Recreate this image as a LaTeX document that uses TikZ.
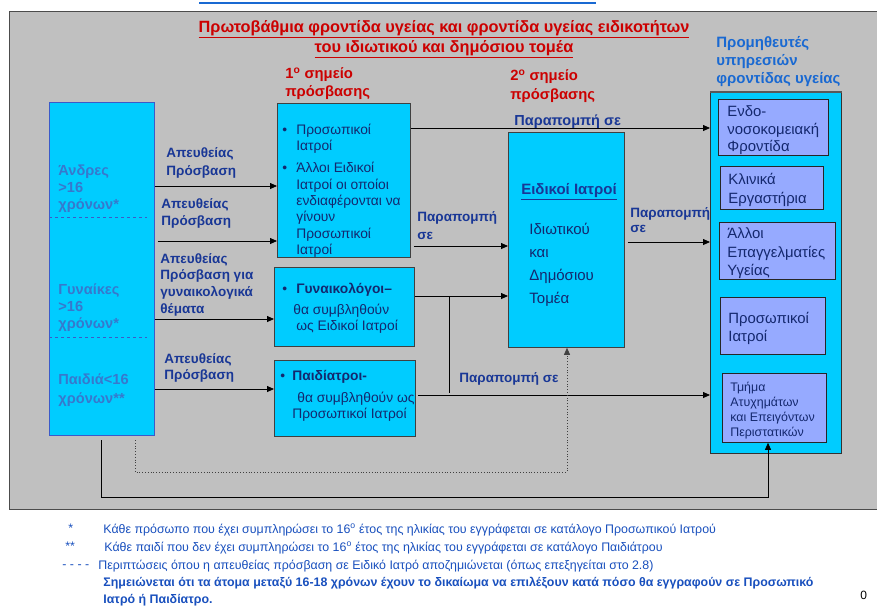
\documentclass[tikz,border=0pt]{standalone}
\usepackage{fontspec}
\setmainfont{Liberation Sans}
\usetikzlibrary{arrows.meta}
\definecolor{panelgrey}{RGB}{192,192,192}
\definecolor{boxcyan}{RGB}{0,204,255}
\definecolor{innerblue}{RGB}{150,170,255}
\definecolor{titlered}{RGB}{204,0,0}
\definecolor{labelblue}{RGB}{25,55,150}
\definecolor{groupblue}{RGB}{55,120,205}
\definecolor{groupborder}{RGB}{60,90,200}
\definecolor{provblue}{RGB}{25,105,210}
\definecolor{textnavy}{RGB}{20,40,110}
\definecolor{notesblue}{RGB}{25,80,190}
\newcommand{\bpt}[1]{\makebox[#1][l]{\textbullet}}
\newcommand{\bgap}[1]{\makebox[#1]{}}

\begin{document}
\begin{tikzpicture}[x=1pt, y=-1pt, line width=0.8pt,
    >={Triangle[length=7pt,width=6pt]},
    every node/.style={inner sep=0pt},
    cyanbox/.style={draw=black!75, fill=boxcyan, anchor=north west},
    innerbox/.style={draw=black!85, fill=innerblue, anchor=north west},
    txt/.style={anchor=north west, align=left, text=textnavy, font=\fontsize{13.8}{16.3}\selectfont},
    lbl/.style={anchor=north west, align=left, text=labelblue, font=\bfseries\fontsize{13.5}{17}\selectfont},
    grp/.style={anchor=north west, align=left, text=groupblue, font=\bfseries\fontsize{14.6}{17}\selectfont},
    redlbl/.style={anchor=north west, align=left, text=titlered, font=\bfseries\fontsize{14.8}{18}\selectfont},
    note/.style={anchor=north west, text=notesblue, font=\fontsize{12.4}{14}\selectfont}]
\useasboundingbox (0,0) rectangle (877,606);
% background panel
\fill[white] (0,0) rectangle (877,606);
\draw[provblue, line width=1.5pt] (199,3) -- (596,3);
\node[draw=black!70, fill=panelgrey, anchor=north west, minimum width=880pt, minimum height=498pt, line width=1.2pt] (panel) at (9,11) {};

% titles
\node[align=center, text=titlered, font=\bfseries\fontsize{16.3}{20}\selectfont] (title) at (444,39)
  {\underline{Πρωτοβάθμια φροντίδα υγείας και φροντίδα υγείας ειδικοτήτων}\\\underline{του ιδιωτικού και δημόσιου τομέα}};
\node[redlbl] (first) at (285,67.4) {1\textsuperscript{ο} σημείο\\πρόσβασης};
\node[redlbl, font=\bfseries\fontsize{14.8}{19}\selectfont] (second) at (510,69.4) {2\textsuperscript{ο} σημείο\\πρόσβασης};
\node[redlbl, font=\bfseries\fontsize{15}{18}\selectfont, text=provblue] (provtitle) at (716,36.3) {Προμηθευτές\\υπηρεσιών\\φροντίδας υγείας};

% population groups
\node[cyanbox, draw=groupborder, minimum width=105pt, minimum height=333pt] (groups) at (49,102) {};
\draw[dashed, groupborder] (groups.west |- 0,217) -- (147,217);
\draw[dashed, groupborder] (groups.west |- 0,337) -- (147,337);
\node[grp] (men) at (58,164.5) {Άνδρες\\>16\\χρόνων*};
\node[grp] (women) at (58,283.5) {Γυναίκες\\>16\\χρόνων*};
\node[grp, font=\bfseries\fontsize{14.6}{19}\selectfont] (children) at (58,373.5) {Παιδιά<16\\χρόνων**};

% first point of access
\node[cyanbox, minimum width=133pt, minimum height=154pt] (P1) at (277,103) {};
\node[txt] (P1txt) at (282,123.8) {\bpt{14pt}Προσωπικοί\\\bgap{14pt}Ιατροί\\[5.7pt]%
  \bpt{14pt}Άλλοι Ειδικοί\\\bgap{14pt}Ιατροί οι οποίοι\\\bgap{14pt}ενδιαφέρονται να\\%
  \bgap{14pt}γίνουν\\\bgap{14pt}Προσωπικοί\\\bgap{14pt}Ιατροί};
\node[cyanbox, minimum width=140pt, minimum height=79pt] (gyn) at (274,267) {};
\node[txt] (gyntxt) at (282,282.8) {\bpt{14pt}\textbf{Γυναικολόγοι–}\\[4.5pt]%
  \bgap{11pt}θα συμβληθούν\\\bgap{14pt}ως Ειδικοί Ιατροί};
\node[cyanbox, minimum width=141pt, minimum height=76pt] (ped) at (274,360) {};
\node[txt] (pedtxt) at (280,369.8) {\bpt{12pt}\textbf{Παιδίατροι-}\\[5.7pt]%
  \bgap{17pt}θα συμβληθούν ως\\\bgap{12pt}Προσωπικοί Ιατροί};

% second point of access
\node[cyanbox, minimum width=116pt, minimum height=215pt] (spec) at (508,132) {};
\node[anchor=north, text=labelblue, font=\bfseries\fontsize{15}{17}\selectfont] (spectitle) at (569,183.3) {\underline{Ειδικοί Ιατροί}};
\node[txt, font=\fontsize{15}{23.3}\selectfont] (spectxt) at (529,222.3) {Ιδιωτικού\\και\\Δημόσιου\\Τομέα};

% access labels
\node[lbl, font=\bfseries\fontsize{13.5}{18}\selectfont] (lab1) at (166,146.9) {Απευθείας\\Πρόσβαση};
\node[lbl] (lab2) at (161,197.9) {Απευθείας\\Πρόσβαση};
\node[lbl, font=\bfseries\fontsize{13.5}{16.7}\selectfont] (lab3) at (160,252.9) {Απευθείας\\Πρόσβαση για\\γυναικολογικά\\θέματα};
\node[lbl, font=\bfseries\fontsize{13.5}{16}\selectfont] (lab4) at (164,352.9) {Απευθείας\\Πρόσβαση};
\node[lbl, font=\bfseries\fontsize{14.5}{17}\selectfont] (ref1) at (514,114.5) {Παραπομπή σε};
\node[lbl, font=\bfseries\fontsize{13.5}{18}\selectfont] (ref2) at (417,210.9) {Παραπομπή\\σε};
\node[lbl, font=\bfseries\fontsize{13.5}{15.5}\selectfont] (ref3) at (630,206.9) {Παραπομπή\\σε};
\node[lbl] (ref4) at (459,371.9) {Παραπομπή σε};

% providers
\node[cyanbox, draw=black!80, minimum width=131pt, minimum height=361pt] (prov) at (710,92) {};
\draw[black!65, line width=2pt] (prov.north west) -- (prov.north east);
\node[innerbox, minimum width=110pt, minimum height=56pt] (hosp) at (718,99) {};
\node[txt, font=\fontsize{14.9}{17.5}\selectfont] (hosptxt) at (727,105.3) {Ενδο-\\νοσοκομειακή\\Φροντίδα};
\node[innerbox, minimum width=103pt, minimum height=43pt] (labs) at (720,166) {};
\node[txt, font=\fontsize{14.9}{18.5}\selectfont] (labstxt) at (728,173.3) {Κλινικά\\Εργαστήρια};
\node[innerbox, minimum width=116pt, minimum height=57pt] (other) at (719,222) {};
\node[txt, font=\fontsize{14.9}{18.5}\selectfont] (othertxt) at (727,227.3) {Άλλοι\\Επαγγελματίες\\Υγείας};
\node[innerbox, minimum width=105pt, minimum height=57pt] (gp) at (720,297) {};
\node[txt, font=\fontsize{14.9}{18}\selectfont] (gptxt) at (728,312.3) {Προσωπικοί\\Ιατροί};
\node[innerbox, minimum width=104pt, minimum height=69pt] (er) at (722,373) {};
\node[txt, font=\fontsize{12.4}{15}\selectfont] (ertxt) at (730,381.3) {Τμήμα\\Ατυχημάτων\\και Επειγόντων\\Περιστατικών};

% connectors
\coordinate (gynjoin) at (449,296);
\coordinate (dotstart) at (135,440);
\coordinate (solstart) at (101,440);
\draw[->] (groups.east |- 0,186) -- (P1.west |- 0,186);
\draw[->] ([xshift=3pt]groups.east |- 0,241) -- (P1.west |- 0,241);
\draw[->] (groups.east |- 0,319) -- (gyn.west |- 0,319);
\draw[->] (groups.east |- 0,389) -- (ped.west |- 0,389);
\draw[->] (P1.east |- 0,128) -- (prov.west |- 0,128);
\draw[->] ([xshift=3pt]P1.east |- 0,246) -- (spec.west |- 0,246);
\draw[->] (gyn.east |- 0,296) -- (spec.west |- 0,296);
\draw (gynjoin) -- (gynjoin |- 0,393);
\draw[->] ([xshift=2pt]ped.east |- 0,395) -- (prov.west |- 0,395);
\draw[->] ([xshift=3pt]spec.east |- 0,242) -- (prov.west |- 0,242);
\draw[->, dotted, black!75] (dotstart) -- (135,472) -- (567,472) -- (spec.south -| 567,0);
\draw[->] (solstart) -- (101,497) -- (768,497) -- (er.south -| 768,0);

% notes
\node[note] (m1) at (68,523.3) {*};
\node[note] (n1) at (103,523.3) {Κάθε πρόσωπο που έχει συμπληρώσει το 16\textsuperscript{ο} έτος της ηλικίας του εγγράφεται σε κατάλογο Προσωπικού Ιατρού};
\node[note] (m2) at (65,541.3) {**};
\node[note] (n2) at (104,541.3) {Κάθε παιδί που δεν έχει συμπληρώσει το 16\textsuperscript{ο} έτος της ηλικίας του εγγράφεται σε κατάλογο Παιδιάτρου};
\node[note] (m3) at (62,559.3) {\vphantom{Ι}- - - -};
\node[note] (n3) at (98,559.3) {Περιπτώσεις όπου η απευθείας πρόσβαση σε Ειδικό Ιατρό αποζημιώνεται (όπως επεξηγείται στο 2.8)};
\node[note, align=left, font=\bfseries\fontsize{12.4}{17}\selectfont] (n4) at (103,576.3) {Σημειώνεται ότι τα άτομα μεταξύ 16-18 χρόνων έχουν το δικαίωμα να επιλέξουν κατά πόσο θα εγγραφούν σε Προσωπικό\\Ιατρό ή Παιδίατρο.};
\node[anchor=north west, font=\fontsize{12}{14}\selectfont] (page) at (860,591) {0};
\end{tikzpicture}
\end{document}
